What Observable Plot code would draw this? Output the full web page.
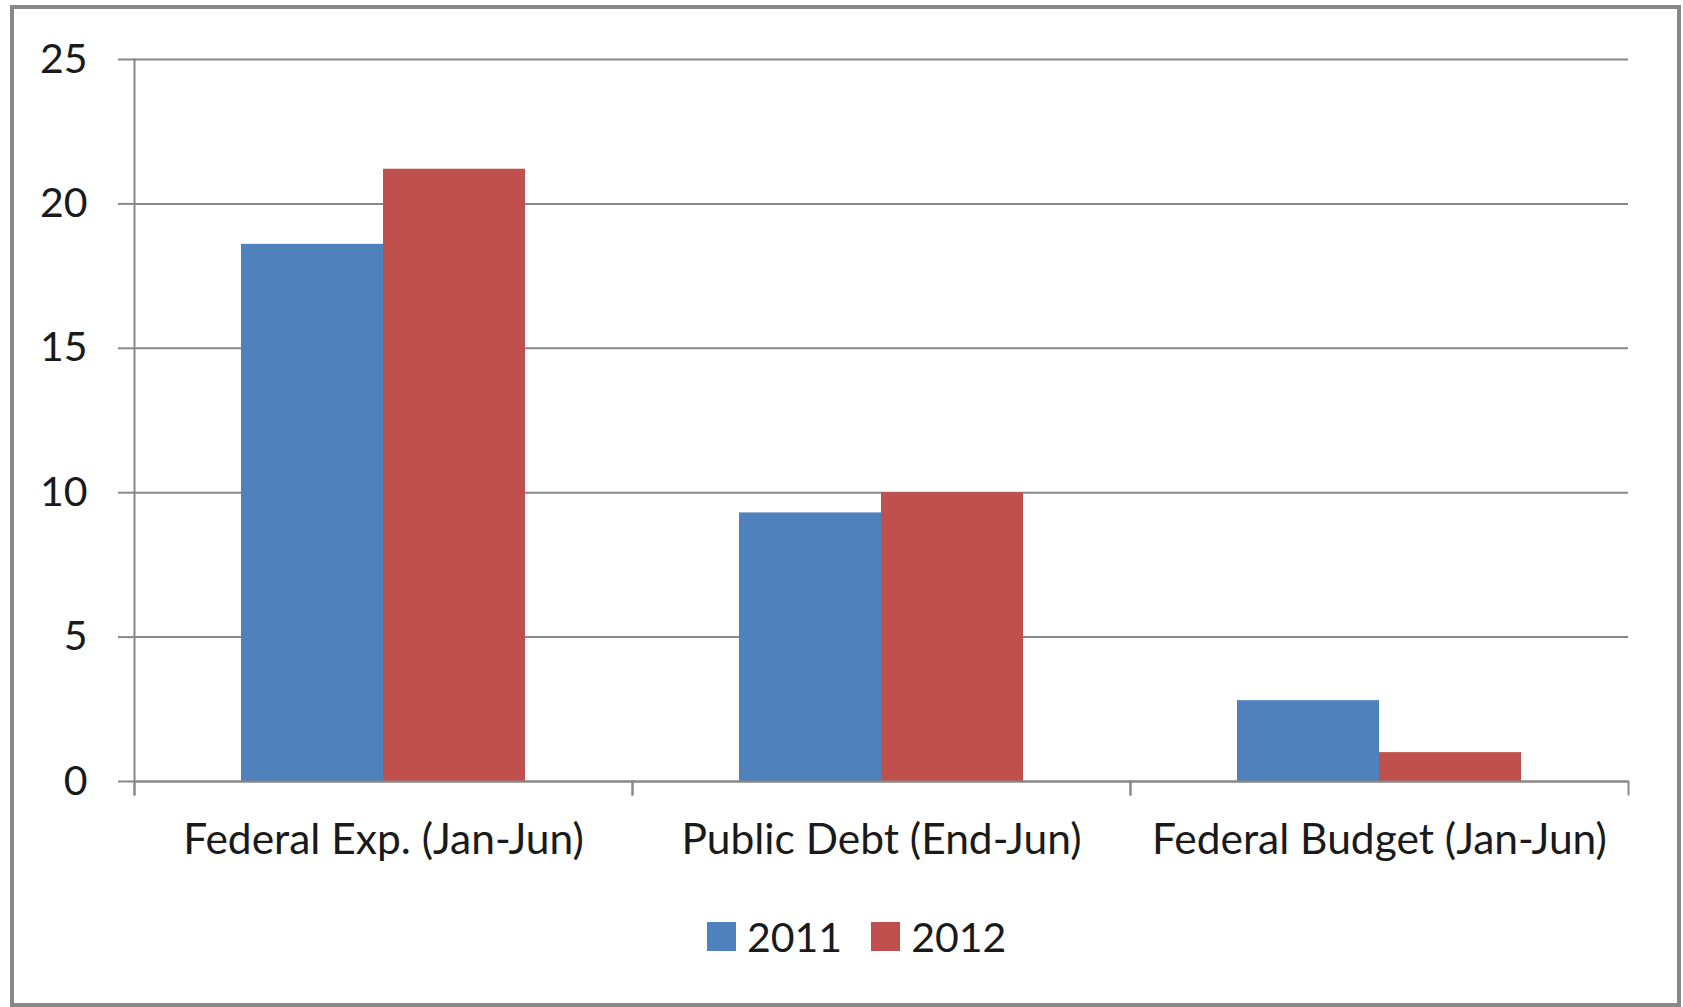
<!DOCTYPE html>
<html>
<head>
<meta charset="utf-8">
<script src="https://cdn.jsdelivr.net/npm/d3@7"></script>
<script src="https://cdn.jsdelivr.net/npm/@observablehq/plot@0.6"></script>
<style>
  html, body { margin: 0; padding: 0; background: #fff; }
  body { width: 1683px; height: 1007px; position: relative; overflow: hidden; font-family: Lato, sans-serif; }
  #border { position: absolute; left: 10px; top: 5px; width: 1671px; height: 1002px; border: 4px solid #888; box-sizing: border-box; pointer-events: none; }
  #chart { position: absolute; left: 0; top: 0; }
  #legend { position: absolute; left: 707px; top: 912px; display: flex; align-items: center; font-family: Lato, sans-serif; font-size: 41px; color: #1a1a1a; }
  .item { display: flex; align-items: center; margin-right: 29px; }
  .sw { width: 29px; height: 29px; margin-right: 11px; }
</style>
</head>
<body>
<div id="chart"></div>
<div id="legend"></div>
<div id="border"></div>
<script>
const categories = ["Federal Exp. (Jan-Jun)", "Public Debt (End-Jun)", "Federal Budget (Jan-Jun)"];
const years = ["2011", "2012"];
const values2011 = [18.6, 9.3, 2.8];
const values2012 = [21.2, 10.0, 1.0];
const yTicks = [0, 5, 10, 15, 20, 25];
const colors = ["#4F81BD", "#C0504D"];

const data = [];
categories.forEach((c, i) => {
  data.push({category: c, year: years[0], value: values2011[i]});
  data.push({category: c, year: years[1], value: values2012[i]});
});

const W = 1683, H = 900, mT = 59, mB = 119, mL = 133, mR = 55;
const plotH = H - mT - mB;
const gray = "#888";

const chart = Plot.plot({
  width: W, height: H,
  marginTop: mT, marginBottom: mB, marginLeft: mL, marginRight: mR,
  style: {fontFamily: "Lato, sans-serif", fontSize: "41px", color: "#1a1a1a", background: "transparent"},
  fx: {domain: categories, padding: 0, label: null},
  x: {domain: years, paddingInner: 0, paddingOuter: 0.742, axis: null},
  y: {domain: [0, 25], axis: null},
  color: {domain: years, range: colors},
  marks: [
    Plot.gridY(yTicks, {stroke: gray, strokeOpacity: 1, strokeWidth: 2}),
    Plot.barY(data, {fx: "category", x: "year", y: "value", fill: "year"}),
    Plot.ruleY([0], {stroke: gray, strokeWidth: 2}),
    Plot.frame({anchor: "left", stroke: gray, strokeWidth: 2, insetTop: plotH, insetBottom: -13}),
    Plot.frame({anchor: "right", stroke: gray, strokeWidth: 2, insetTop: plotH, insetBottom: -13}),
    Plot.frame({anchor: "left", stroke: gray, strokeWidth: 2, insetBottom: -13, facetAnchor: "left"}),
    Plot.axisY(yTicks, {anchor: "left", tickSize: 16, tickPadding: 31, stroke: gray, strokeWidth: 2, fill: "#1a1a1a", label: null}),
    Plot.axisFx({anchor: "bottom", tickSize: 0, tickPadding: 42, fill: "#1a1a1a", fontSize: 42.5, label: null})
  ]
});
document.getElementById("chart").appendChild(chart);

const legend = document.getElementById("legend");
years.forEach((y, i) => {
  const item = document.createElement("div");
  item.className = "item";
  const sw = document.createElement("div");
  sw.className = "sw";
  sw.style.background = colors[i];
  const t = document.createElement("span");
  t.textContent = y;
  item.appendChild(sw);
  item.appendChild(t);
  legend.appendChild(item);
});
</script>
</body>
</html>
